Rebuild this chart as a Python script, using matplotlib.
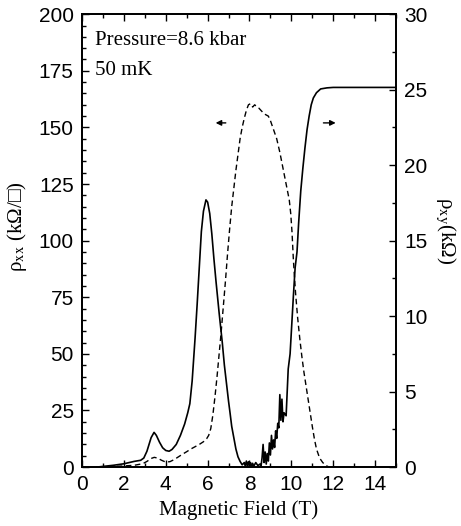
import numpy as np
import matplotlib
matplotlib.use('Agg')
import matplotlib.pyplot as plt
from matplotlib.ticker import MultipleLocator

# rho_xx (dashed, left axis, kOhm/sq)
field_xx = [0.8, 1.5, 2.0, 2.5, 2.9, 3.1, 3.3, 3.45, 3.6, 3.8, 4.0, 4.2, 4.4, 4.6, 4.8, 5.0,
            5.2, 5.4, 5.6, 5.8, 5.95, 6.05, 6.15, 6.25, 6.35, 6.45, 6.55, 6.65, 6.75, 6.85, 6.95,
            7.05, 7.15, 7.25, 7.35, 7.45, 7.55, 7.65, 7.75, 7.85, 7.95, 8.05, 8.15, 8.25, 8.35,
            8.45, 8.55, 8.7, 8.9, 9.0, 9.15, 9.3, 9.45, 9.6, 9.75, 9.9, 9.97, 10.03, 10.1, 10.2,
            10.3, 10.4, 10.5, 10.6, 10.75, 10.9, 11.0, 11.1, 11.2, 11.35, 11.5, 11.65, 11.8]
rho_xx = [0.0, 0.3, 0.5, 0.8, 1.5, 2.5, 3.8, 4.3, 4.0, 3.0, 2.2, 2.4, 3.3, 4.5, 5.7, 6.8,
          8.0, 9.0, 10.0, 11.2, 12.5, 14.0, 17.0, 23.0, 31.0, 40.0, 50.0, 60.0, 71.0, 82.0, 94.0,
          105.0, 115.0, 123.0, 131.0, 138.0, 145.0, 150.0, 154.0, 157.5, 160.0, 160.5, 159.0, 160.0, 159.0,
          158.5, 157.5, 156.0, 155.0, 153.0, 149.0, 145.0, 139.0, 132.0, 125.0, 118.0, 112.0, 104.0, 91.0, 77.0,
          66.0, 57.0, 49.0, 42.0, 33.0, 24.0, 18.0, 12.5, 8.0, 4.0, 2.0, 0.7, 0.0]

# rho_xy (solid, right axis, kOhm)
field_xy = [0.7, 1.5, 2.0, 2.5, 2.8, 2.95, 3.1, 3.2, 3.3, 3.44, 3.55, 3.7, 3.85, 4.0, 4.16,
            4.3, 4.5, 4.7, 4.9, 5.05, 5.15, 5.26, 5.4, 5.5, 5.6, 5.7, 5.8, 5.92, 6.0, 6.1,
            6.2, 6.3, 6.4, 6.55, 6.7, 6.8, 6.9, 7.0, 7.07, 7.15, 7.25, 7.35, 7.45, 7.55, 7.65,
            7.75, 7.8, 7.85, 7.9, 7.95, 8.0, 8.05, 8.1, 8.15, 8.2, 8.3, 8.4, 8.5, 8.55, 8.6,
            8.65, 8.7, 8.75, 8.8, 8.85, 8.9, 8.95, 9.0, 9.05, 9.1, 9.15, 9.2, 9.25, 9.3, 9.35,
            9.4, 9.45, 9.5, 9.55, 9.6, 9.65, 9.75, 9.85, 9.94, 10.03, 10.1, 10.18, 10.27, 10.35,
            10.45, 10.55, 10.65, 10.75, 10.85, 10.95, 11.05, 11.2, 11.4, 11.7, 12.0, 15.0]
rho_xy = [0.0, 0.12, 0.22, 0.38, 0.45, 0.6, 1.05, 1.5, 1.95, 2.3, 2.1, 1.65, 1.28, 1.1, 1.05,
          1.17, 1.5, 2.1, 2.85, 3.6, 4.2, 5.7, 8.55, 10.8, 13.2, 15.6, 16.95, 17.7, 17.55, 16.8,
          15.45, 13.8, 12.3, 10.2, 8.25, 6.75, 5.55, 4.35, 3.6, 2.7, 1.95, 1.2, 0.68, 0.38, 0.15,
          0.3, 0.05, 0.4, 0.1, 0.35, 0.05, 0.3, 0.0, 0.25, 0.05, 0.3, 0.1, 0.2, 0.05, 0.6,
          1.5, 0.3, 1.0, 0.2, 0.9, 0.4, 1.6, 0.8, 2.1, 1.2, 1.8, 1.3, 2.4, 1.9, 2.9,
          2.6, 4.8, 3.1, 4.5, 3.0, 3.6, 3.4, 6.5, 7.5, 9.7, 11.4, 13.2, 14.25, 16.2,
          18.3, 19.8, 21.15, 22.35, 23.25, 24.0, 24.45, 24.8, 25.05, 25.12, 25.15, 25.15]

plt.rcParams['font.family'] = 'Liberation Sans'
plt.rcParams['mathtext.fontset'] = 'stix'
plt.rcParams['xtick.direction'] = 'in'
plt.rcParams['ytick.direction'] = 'in'

fig = plt.figure(figsize=(4.61, 5.26), dpi=100)
ax = fig.add_axes([0.178, 0.112, 0.681, 0.861])
ax2 = ax.twinx()

ax.plot(field_xx, rho_xx, color='k', linewidth=1.0, linestyle=(0, (4, 2.5)))
ax2.plot(field_xy, rho_xy, color='k', linewidth=1.2)

ax.set_xlim(0, 15)
ax.set_ylim(0, 200)
ax2.set_ylim(0, 30)

ax.xaxis.set_major_locator(MultipleLocator(2))
ax.xaxis.set_minor_locator(MultipleLocator(1))
ax.yaxis.set_major_locator(MultipleLocator(25))
ax.yaxis.set_minor_locator(MultipleLocator(5))
ax2.yaxis.set_major_locator(MultipleLocator(5))
ax2.yaxis.set_minor_locator(MultipleLocator(2.5))

ax.tick_params(axis='both', which='major', labelsize=15, length=5, width=1, top=True, pad=6)
ax.tick_params(axis='both', which='minor', length=3, width=1, top=True)
ax.tick_params(axis='y', right=False, which='both')
ax2.tick_params(axis='y', which='major', labelsize=15, length=5, width=1, pad=6)
ax2.tick_params(axis='y', which='minor', length=3, width=1)
for a in (ax, ax2):
    for s in a.spines.values():
        s.set_linewidth(1.3)

serif = ['Liberation Serif', 'DejaVu Sans']
ax.set_xlabel('Magnetic Field (T)', fontsize=15, family=serif, labelpad=4)
ax.set_ylabel('ρ$_{\\mathrm{xx}}$ (kΩ/□)', fontsize=15, family=serif)
ax2.set_ylabel('ρ$_{\\mathrm{xy}}$(kΩ)', fontsize=15, family=serif, rotation=270, va='center')
ax.yaxis.set_label_coords(-0.17, 0.532)
ax2.yaxis.set_label_coords(1.155, 0.523)

ax.text(0.6, 186.3, 'Pressure=8.6 kbar', fontsize=15, family=serif, va='baseline')
ax.text(0.6, 173, '50 mK', fontsize=15, family=serif, va='baseline')

ax.annotate('', xy=(6.25, 152), xytext=(7.0, 152),
            arrowprops=dict(arrowstyle='-|>', color='k', lw=1, mutation_scale=8))
ax.annotate('', xy=(12.25, 152), xytext=(11.4, 152),
            arrowprops=dict(arrowstyle='-|>', color='k', lw=1, mutation_scale=8))

plt.savefig('out.png', dpi=100)
